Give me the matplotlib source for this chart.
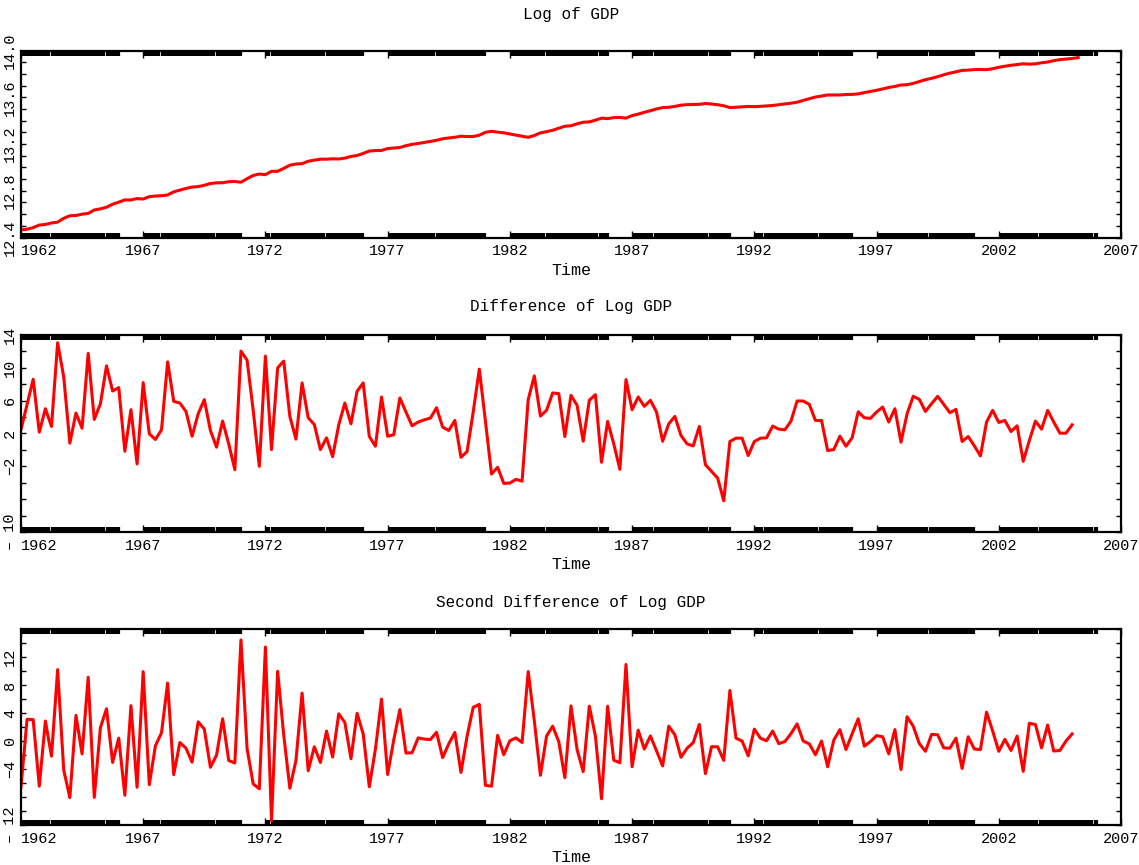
import numpy as np
import matplotlib.pyplot as plt

# quarterly growth of log GDP (annualised, %);
# the first value (1961Q4) sits just left of the plotted range
start_quarter = 1961.75
gdp_growth = [
    9.05,
    2.45, 5.55, 8.61, 2.16,
    5.02, 2.86, 13.06, 8.90,
    0.82, 4.49, 2.65, 11.76,
    3.71, 5.63, 10.24, 7.18,
    7.59, -0.16, 4.90, -1.71,
    8.20, 1.96, 1.27, 2.45,
    10.73, 5.92, 5.71, 4.69,
    1.67, 4.41, 6.12, 2.37,
    0.33, 3.51, 0.73, -2.41,
    12.04, 10.94, 4.82, -2.00,
    11.43, 0.04, 10.00, 10.82,
    4.08, 1.31, 8.16, 3.92,
    3.10, 0.04, 1.47, -0.82,
    3.06, 5.71, 3.18, 7.14,
    8.16, 1.63, 0.45, 6.45,
    1.67, 1.84, 6.33, 4.61,
    2.94, 3.39, 3.67, 3.88,
    5.14, 2.78, 2.37, 3.59,
    -0.90, -0.20, 4.61, 9.84,
    3.51, -2.94, -2.12, -4.08,
    -4.04, -3.59, -3.80, 6.12,
    9.02, 4.12, 4.82, 6.94,
    6.86, 1.63, 6.65, 5.43,
    1.06, 6.04, 6.73, -1.51,
    3.47, 0.73, -2.37, 8.57,
    4.90, 6.45, 5.31, 6.04,
    4.61, 1.06, 3.18, 4.08,
    1.76, 0.73, 0.49, 2.86,
    -1.80, -2.61, -3.43, -6.20,
    1.02, 1.43, 1.43, -0.69,
    1.02, 1.43, 1.47, 2.90,
    2.53, 2.45, 3.51, 5.96,
    5.96, 5.55, 3.59, 3.59,
    -0.08, 0.04, 1.67, 0.45,
    1.47, 4.65, 3.92, 3.84,
    4.61, 5.22, 3.39, 5.02,
    0.94, 4.41, 6.53, 6.16,
    4.69, 5.63, 6.53, 5.55,
    4.53, 4.94, 1.02, 1.63,
    0.49, -0.73, 3.39, 4.82,
    3.35, 3.59, 2.24, 2.94,
    -1.39, 1.14, 3.51, 2.53,
    4.82, 3.39, 2.04, 2.04,
    3.06,
]
log_gdp_1962 = 12.465  # level at the left edge of the top panel

titles = ['Log of GDP', 'Difference of Log GDP', 'Second Difference of Log GDP']
year_ticks = [1962, 1967, 1972, 1977, 1982, 1987, 1992, 1997, 2002, 2007]
ylims = [(12.4, 14.0), (-10, 14), (-12, 16)]
ystep = [0.1, 2, 2]
ylabels = [
    {12.4: '12.4', 12.8: '12.8', 13.2: '13.2', 13.6: '13.6', 14.0: '14.0'},
    {14: '14', 10: '10', 6: '6', 2: '2', -2: '\u22122', -10: '\u2013 10'},
    {12: '12', 8: '8', 4: '4', 0: '0', -4: '\u22124', -12: '\u2013 12'},
]

growth = np.array(gdp_growth)
quarters = start_quarter + 0.25 * np.arange(len(growth))
# the level is rebuilt from the growth rates (growth = 400 * diff(log GDP))
log_gdp = log_gdp_1962 + np.concatenate([[0.0], np.cumsum(growth[1:])]) / 400
second_diff = np.diff(growth)

series = [
    (quarters + 0.25, log_gdp),
    (quarters, growth),
    (quarters[1:], second_diff),
]

plt.rcParams['font.family'] = ['Liberation Mono', 'DejaVu Sans Mono']

fig = plt.figure(figsize=(11.39, 8.65), dpi=100)
boxes = [
    [0.0184, 0.7254, 0.9658, 0.2162],
    [0.0184, 0.3850, 0.9658, 0.2277],
    [0.0184, 0.0462, 0.9658, 0.2266],
]
pads = [23, 17, 16]

for i in range(3):
    ax = fig.add_axes(boxes[i])
    x, y = series[i]
    ax.plot(x, y, color='red', lw=2.2)

    ax.set_xlim(1962, 2007)
    ax.set_ylim(*ylims[i])

    # y ticks on both sides, every minor step, labels only on some
    lo, hi = ylims[i]
    n = int(round((hi - lo) / ystep[i]))
    yt = [round(lo + k * ystep[i], 2) for k in range(n + 1)]
    labs = []
    for v in yt:
        lab = ''
        for key, s in ylabels[i].items():
            if abs(key - v) < 1e-6:
                lab = s
        labs.append(lab)
    ax.set_yticks(yt, labs)
    ax.tick_params(axis='y', direction='in', length=3.5, width=1,
                   left=True, right=True, labelsize=11, pad=3)
    for lab in ax.get_yticklabels():
        lab.set_rotation(90)
        lab.set_va('center')
        lab.set_ha('right')

    # x: year ticks plus dense minor ticks forming the thick bars
    ax.set_xticks(year_ticks, [str(v) for v in year_ticks])
    minor = []
    for yr in year_ticks[:-1]:
        minor.extend(list(yr + np.arange(0, 49) / 12.0))
    ax.set_xticks(minor, minor=True)
    ax.tick_params(axis='x', which='major', direction='in', length=5, width=1,
                   top=True, bottom=True, labelsize=11, pad=5)
    ax.tick_params(axis='x', which='minor', direction='in', length=3.5,
                   width=1.6, top=True, bottom=True)
    xl = ax.get_xticklabels()
    xl[0].set_ha('left')

    for s in ax.spines.values():
        s.set_linewidth(1.6)

    ax.set_title(titles[i], fontsize=11.5, pad=pads[i])
    ax.set_xlabel('Time', fontsize=12, labelpad=3)

fig.savefig('out.png', dpi=100)
